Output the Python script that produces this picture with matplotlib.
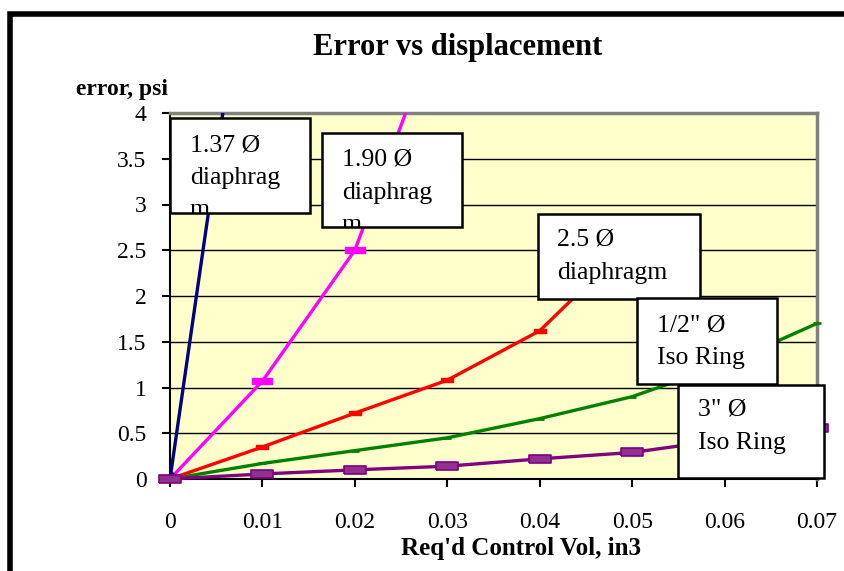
import matplotlib
matplotlib.use('Agg')
import matplotlib.pyplot as plt
from matplotlib.patches import Rectangle

plt.rcParams['font.family'] = ['Liberation Serif', 'DejaVu Serif']

# data (error, psi vs required control volume, in3)
x_137 = [0, 0.01]
err_137 = [0, 7.0]
x_190 = [0, 0.01, 0.02, 0.03]
err_190 = [0, 1.07, 2.50, 5.23]
x_25 = [0, 0.01, 0.02, 0.03, 0.04, 0.05]
err_25 = [0, 0.35, 0.72, 1.08, 1.62, 2.60]
x_iso = [0, 0.01, 0.02, 0.03, 0.04, 0.05, 0.06, 0.07]
err_iso_half = [0, 0.17, 0.31, 0.45, 0.66, 0.90, 1.25, 1.70]
err_iso_3 = [0, 0.055, 0.10, 0.14, 0.22, 0.29, 0.43, 0.56]

labels = ['1.37 Ø\ndiaphrag\nm', '1.90 Ø\ndiaphrag\nm', '2.5 Ø\ndiaphragm',
          '1/2" Ø\nIso Ring', '3" Ø\nIso Ring']

W, H = 845, 571
fig = plt.figure(figsize=(W / 100, H / 100), dpi=100)

def fx(px):
    return px / W

def fy(py):
    return 1 - py / H

ax = fig.add_axes([fx(170), fy(479), fx(817) - fx(170), fy(113) - fy(479)])
ax.set_facecolor('#FFFFCC')

# outer chart frame
fig.add_artist(Rectangle((fx(10), fy(600)), fx(900), fy(14) - fy(600),
                         transform=fig.transFigure, fill=False,
                         edgecolor='black', linewidth=4, zorder=0.5))

rect_marker = [(-1, -0.35), (1, -0.35), (1, 0.35), (-1, 0.35), (-1, -0.35)]

ax.plot(x_137, err_137, color='#000080', lw=2.4, marker='D', ms=9,
        markevery=[0], zorder=6)
ax.plot(x_190, err_190, color='#FF00FF', lw=2.4, marker=rect_marker, ms=14,
        zorder=5)
ax.plot(x_25, err_25, color='#FF0000', lw=2.4, marker=rect_marker, ms=9,
        zorder=4)
ax.plot(x_iso, err_iso_half, color='#008000', lw=2.4, marker='_', ms=6,
        mew=2, zorder=3, clip_on=False)
ax.plot(x_iso, err_iso_3, color='#800080', lw=2.4, marker=rect_marker, ms=16,
        mfc='#903090', mec='#800080', mew=1.2, zorder=7, clip_on=False)

ax.set_xlim(0, 0.07)
ax.set_ylim(0, 4)
ax.set_xticks([0, 0.01, 0.02, 0.03, 0.04, 0.05, 0.06, 0.07])
ax.set_xticklabels(['0', '0.01', '0.02', '0.03', '0.04', '0.05', '0.06', '0.07'])
ax.set_yticks([0, 0.5, 1, 1.5, 2, 2.5, 3, 3.5, 4])
ax.set_yticklabels(['0', '0.5', '1', '1.5', '2', '2.5', '3', '3.5', '4'])
ax.yaxis.grid(True, color='black', lw=1.0)
ax.set_axisbelow(True)
ax.tick_params(axis='x', direction='out', length=6, width=1.5, pad=18,
               labelsize=17)
ax.tick_params(axis='y', direction='out', length=6, width=1.5, pad=11,
               labelsize=17)
for s in ['left', 'bottom']:
    ax.spines[s].set_color('black')
    ax.spines[s].set_linewidth(1.5)
for s in ['top', 'right']:
    ax.spines[s].set_color('#808080')
    ax.spines[s].set_linewidth(2.5)

fig.text(fx(458), fy(47), 'Error vs displacement', ha='center', va='center',
         fontsize=22, fontweight='bold')
fig.text(fx(122), fy(90), 'error, psi', ha='center', va='center',
         fontsize=17, fontweight='bold')
fig.text(fx(521), fy(549), "Req'd Control Vol, in3", ha='center', va='center',
         fontsize=18, fontweight='bold')

# label boxes: (left, top, right, bottom) in pixels, text left/top
boxes = [(170, 118, 310, 213, 190, 134),
         (322, 133, 462, 227, 342, 149),
         (538, 214, 700, 299, 557, 229),
         (637, 298, 777, 384, 657, 314),
         (678, 385, 824, 478, 698, 399)]
for lab, (l, t, r, b, tx, ty) in zip(labels, boxes):
    box = Rectangle((fx(l), fy(b)), fx(r) - fx(l), fy(t) - fy(b),
                    transform=fig.transFigure, facecolor='white',
                    edgecolor='black', linewidth=1.8, zorder=2)
    fig.add_artist(box)
    txt = fig.text(fx(tx), fy(ty), lab, ha='left', va='top', fontsize=18.5,
                   linespacing=1.62, zorder=3)
    txt.set_clip_path(box)

fig.savefig('out.png', dpi=100)
